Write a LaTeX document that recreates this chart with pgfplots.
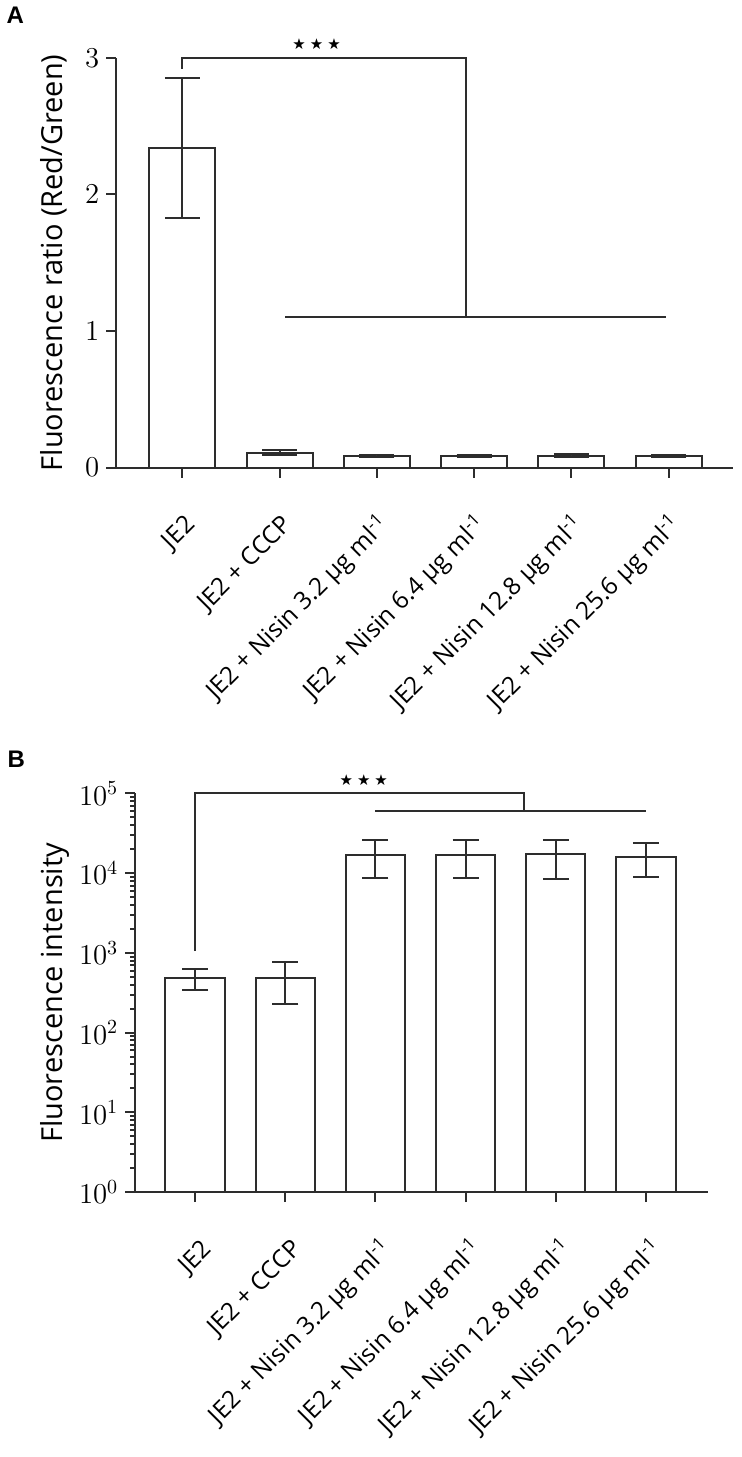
\documentclass[border=0pt]{standalone}
\usepackage{pgfplots}
\pgfplotsset{compat=1.18}
\usepackage{fontspec}
\setmainfont{Open Sans}
\newfontfamily\arialfont{Liberation Sans}
\newfontfamily\symfont{DejaVu Sans}
\definecolor{ln}{RGB}{45,45,45}

\pgfplotstableread{
x y ep em
0 2.34 0.51 0.51
1 0.11 0.02 0.02
2 0.088 0.008 0.008
3 0.085 0.004 0.004
4 0.088 0.01 0.01
5 0.085 0.01 0.01
}\dataA

\pgfplotstableread{
x y ep em
0 490 130 143
1 490 270 264
2 16700 9100 7900
3 16900 8900 8100
4 17200 8600 8700
5 15900 8100 7000
}\dataB

\begin{document}
\begin{tikzpicture}
\path (0,0) rectangle (369.5pt,-728.5pt);
\pgfplotsset{
  common/.style={
    scale only axis,
    axis lines=left,
    axis line style={-, draw=ln, line width=1pt},
    tick align=outside,
    major tick length=5pt,
    minor tick length=2.5pt,
    tick style={draw=ln, line width=1pt},
    xtick={0,...,5},
    xticklabels={JE2, JE2 + CCCP, JE2 + Nisin 3.2 µg ml\textsuperscript{-1}, JE2 + Nisin 6.4 µg ml\textsuperscript{-1}, JE2 + Nisin 12.8 µg ml\textsuperscript{-1}, JE2 + Nisin 25.6 µg ml\textsuperscript{-1}},
    yticklabel style={font=\fontsize{14}{16}\selectfont},
    ylabel style={font=\fontsize{14.5}{16}\selectfont, anchor=center},
    clip=false,
  }
}
% Panel A
\begin{axis}[common,
  at={(56.5pt,-233.5pt)}, anchor=south west,
  width=308.5pt, height=205pt,
  xmin=-0.68, xmax=5.66, ymin=0, ymax=3,
  ytick={0,1,2,3},
  xticklabel style={xshift=7pt, yshift=-24pt, rotate=45, anchor=base east, inner sep=0pt, font=\fontsize{12.3}{14}\selectfont},
  ylabel={Fluorescence ratio (Red/Green)},
  ylabel style={at={(axis description cs:-0.102,0.5)}},
]
\addplot[ybar, bar shift=0pt, bar width=0.68, fill=white, draw=ln, line width=1pt,
  error bars/.cd, y dir=both, y explicit,
  error bar style={line width=1pt, draw=ln},
  error mark options={rotate=90, mark size=8.75pt, line width=1pt, draw=ln}]
  table[x=x, y=y, y error plus=ep, y error minus=em] {\dataA};
\draw[ln, line width=1pt] ([xshift=-5pt]axis cs:-0.68,0) -- (axis cs:-0.68,0);
\draw[ln, line width=1pt] (axis cs:0,2.92) |- (axis cs:2.92,3) -- (axis cs:2.92,1.105);
\draw[ln, line width=1pt] (axis cs:1.06,1.105) -- (axis cs:4.97,1.105);
\node[font=\symfont\fontsize{7.5}{8}\selectfont] at (axis cs:1.38,3.10) {★\hspace{2pt}★\hspace{2pt}★};
\end{axis}
% Panel B
\begin{axis}[common,
  at={(66pt,-596pt)}, anchor=south west,
  width=286.5pt, height=199.5pt,
  ymode=log,
  xmin=-0.665, xmax=5.688, ymin=1, ymax=100000,
  ytick={1,10,100,1000,10000,100000},
  xticklabel style={xshift=9pt, yshift=-24pt, rotate=45, anchor=base east, inner sep=0pt, font=\fontsize{12.3}{14}\selectfont},
  ylabel={Fluorescence intensity},
  ylabel style={at={(axis description cs:-0.141,0.5)}},
]
\addplot[ybar, bar shift=0pt, bar width=0.66, fill=white, draw=ln, line width=1pt,
  error bars/.cd, y dir=both, y explicit,
  error bar style={line width=1pt, draw=ln},
  error mark options={rotate=90, mark size=6.5pt, line width=1pt, draw=ln}]
  table[x=x, y=y, y error plus=ep, y error minus=em] {\dataB};
\draw[ln, line width=1pt] ([xshift=-5pt]axis cs:-0.665,1) -- (axis cs:-0.665,1);
\draw[ln, line width=1pt] (axis cs:0,1057) |- (axis cs:3.65,100000) -- (axis cs:3.65,59500);
\draw[ln, line width=1pt] (axis cs:2,59500) -- (axis cs:5,59500);
\node[font=\symfont\fontsize{7.5}{8}\selectfont] at (axis cs:1.87,145000) {★\hspace{2pt}★\hspace{2pt}★};
\end{axis}
\node[font=\arialfont\bfseries\fontsize{12}{12}\selectfont] at (6pt,-7pt) {A};
\node[font=\arialfont\bfseries\fontsize{12}{12}\selectfont] at (6.5pt,-379.5pt) {B};
\end{tikzpicture}
\end{document}
